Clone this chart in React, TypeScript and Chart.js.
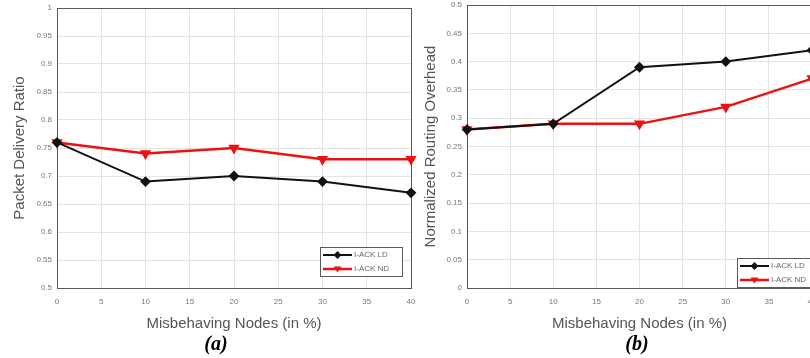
import React, { useEffect, useRef } from "react";
import { Chart, registerables } from "chart.js";

Chart.register(...registerables);

const misbehavingNodes = [0, 10, 20, 30, 40];
const seriesNames = ["I-ACK LD", "I-ACK ND"];

const pdrLD = [0.76, 0.69, 0.70, 0.69, 0.67];
const pdrND = [0.76, 0.74, 0.75, 0.73, 0.73];

const nroLD = [0.28, 0.29, 0.39, 0.40, 0.42];
const nroND = [0.28, 0.29, 0.29, 0.32, 0.37];

const xTitle = "Misbehaving Nodes (in %)";
const pdrTitle = "Packet Delivery Ratio";
const nroTitle = "Normalized Routing Overhead";

const FONT = "'Liberation Sans', Arial, sans-serif";

const framePlugin = {
  id: "frame",
  beforeDatasetsDraw(chart: any) {
    const { ctx, chartArea: a } = chart;
    ctx.save();
    ctx.strokeStyle = "#5a5a5a";
    ctx.lineWidth = 1;
    ctx.strokeRect(Math.round(a.left) + 0.5, Math.round(a.top) + 0.5, Math.round(a.right - a.left), Math.round(a.bottom - a.top));
    ctx.restore();
  },
};

function drawMarker(ctx: CanvasRenderingContext2D, style: string, x: number, y: number, r: number, color: string) {
  ctx.fillStyle = color;
  ctx.strokeStyle = color;
  ctx.beginPath();
  if (style === "rectRot") {
    ctx.moveTo(x, y - r);
    ctx.lineTo(x + r, y);
    ctx.lineTo(x, y + r);
    ctx.lineTo(x - r, y);
  } else {
    ctx.moveTo(x - r, y - r * 0.6);
    ctx.lineTo(x + r, y - r * 0.6);
    ctx.lineTo(x, y + r * 0.9);
  }
  ctx.closePath();
  ctx.fill();
}

const boxLegendPlugin = {
  id: "boxLegend",
  afterDraw(chart: any, _args: any, opts: any) {
    const { ctx, chartArea: a } = chart;
    const w = 82;
    const h = 29;
    const x0 = a.right - opts.right - w;
    const y0 = a.bottom - opts.bottom - h;
    ctx.save();
    ctx.fillStyle = "#ffffff";
    ctx.fillRect(x0, y0, w, h);
    ctx.strokeStyle = "#5a5a5a";
    ctx.lineWidth = 1;
    ctx.strokeRect(Math.round(x0) + 0.5, Math.round(y0) + 0.5, w, h);
    chart.data.datasets.forEach((ds: any, i: number) => {
      const yy = y0 + 8 + i * 14;
      ctx.strokeStyle = ds.borderColor;
      ctx.lineWidth = ds.borderWidth;
      ctx.beginPath();
      ctx.moveTo(x0 + 3, yy);
      ctx.lineTo(x0 + 32, yy);
      ctx.stroke();
      drawMarker(ctx, ds.pointStyle, x0 + 17.5, yy, ds.pointRadius, ds.pointBackgroundColor);
      ctx.fillStyle = "#666";
      ctx.font = `8px ${FONT}`;
      ctx.textBaseline = "middle";
      ctx.textAlign = "left";
      ctx.fillText(ds.label, x0 + 34, yy);
    });
    ctx.restore();
  },
};

type PanelProps = {
  ld: number[];
  nd: number[];
  yMin: number;
  yMax: number;
  yTitle: string;
  yWidth: number;
  yTitlePad: number;
  padTop: number;
  padRight: number;
  xHeight: number;
  legendRight: number;
  legendBottom: number;
  width: number;
  height: number;
  left: number;
  top: number;
};

function Panel(p: PanelProps) {
  const ref = useRef<HTMLCanvasElement | null>(null);
  useEffect(() => {
    if (!ref.current) return;
    const fmt = (v: any) => String(Number(Number(v).toFixed(2)));
    const chart = new Chart(ref.current, {
      type: "line",
      data: {
        datasets: [
          {
            label: seriesNames[0],
            data: misbehavingNodes.map((x, i) => ({ x, y: p.ld[i] })),
            borderColor: "#111111",
            backgroundColor: "#111111",
            pointBackgroundColor: "#111111",
            pointBorderColor: "#111111",
            borderWidth: 2,
            pointStyle: "rectRot",
            pointRadius: 4,
            pointHoverRadius: 4,
            tension: 0,
            clip: false,
          } as any,
          {
            label: seriesNames[1],
            data: misbehavingNodes.map((x, i) => ({ x, y: p.nd[i] })),
            borderColor: "#ee1111",
            backgroundColor: "#ee1111",
            pointBackgroundColor: "#ee1111",
            pointBorderColor: "#ee1111",
            borderWidth: 2.5,
            pointStyle: "triangle",
            rotation: 180,
            pointRadius: 4,
            pointHoverRadius: 4,
            tension: 0,
            clip: false,
          } as any,
        ],
      },
      options: {
        animation: false,
        responsive: false,
        layout: { padding: { top: p.padTop, right: p.padRight, left: 0, bottom: 0 } },
        plugins: {
          legend: { display: false },
          tooltip: { enabled: false },
          boxLegend: { right: p.legendRight, bottom: p.legendBottom },
        } as any,
        scales: {
          x: {
            type: "linear",
            min: 0,
            max: 40,
            ticks: { stepSize: 5, color: "#777", font: { size: 8, family: FONT }, padding: 9, maxRotation: 0, autoSkip: false },
            grid: { color: "#e4e4e4", drawTicks: false },
            border: { display: false },
            title: { display: true, text: xTitle, color: "#555", font: { size: 15, family: FONT }, padding: { top: 0, bottom: 2 } },
            afterFit: (s: any) => {
              s.height = p.xHeight;
              s.paddingLeft = 0;
              s.paddingRight = 0;
            },
          },
          y: {
            min: p.yMin,
            max: p.yMax,
            ticks: { stepSize: 0.05, color: "#777", font: { size: 8, family: FONT }, padding: 5, callback: fmt },
            grid: { color: "#e4e4e4", drawTicks: false },
            border: { display: false },
            title: { display: true, text: p.yTitle, color: "#555", font: { size: 15, family: FONT }, padding: { top: p.yTitlePad, bottom: 0 } },
            afterFit: (s: any) => {
              s.width = p.yWidth;
              s.paddingTop = 0;
              s.paddingBottom = 0;
            },
          },
        },
      } as any,
      plugins: [framePlugin, boxLegendPlugin],
    });
    return () => chart.destroy();
  }, []);
  return (
    <canvas
      ref={ref}
      width={p.width}
      height={p.height}
      style={{ position: "absolute", left: p.left, top: p.top, width: p.width, height: p.height }}
    />
  );
}

const capStyle: React.CSSProperties = {
  position: "absolute",
  top: 331,
  width: 60,
  textAlign: "center",
  fontFamily: "'Liberation Serif', 'Times New Roman', serif",
  fontWeight: "bold",
  fontStyle: "italic",
  fontSize: 20,
  lineHeight: "24px",
  color: "#000",
};

export default function App() {
  return (
    <div style={{ position: "absolute", left: 0, top: 0, width: 810, height: 358, overflow: "hidden", background: "#fff" }}>
      <Panel
        ld={pdrLD}
        nd={pdrND}
        yMin={0.5}
        yMax={1}
        yTitle={pdrTitle}
        yWidth={57}
        yTitlePad={11}
        padTop={8}
        padRight={8}
        xHeight={47}
        legendRight={9}
        legendBottom={12}
        width={419}
        height={335}
        left={0}
        top={0}
      />
      <Panel
        ld={nroLD}
        nd={nroND}
        yMin={0}
        yMax={0.5}
        yTitle={nroTitle}
        yWidth={53}
        yTitlePad={8}
        padTop={8}
        padRight={8}
        xHeight={47}
        legendRight={-7}
        legendBottom={1}
        width={406}
        height={338}
        left={414}
        top={-3}
      />
      <div style={{ ...capStyle, left: 186 }}>(a)</div>
      <div style={{ ...capStyle, left: 607 }}>(b)</div>
    </div>
  );
}
